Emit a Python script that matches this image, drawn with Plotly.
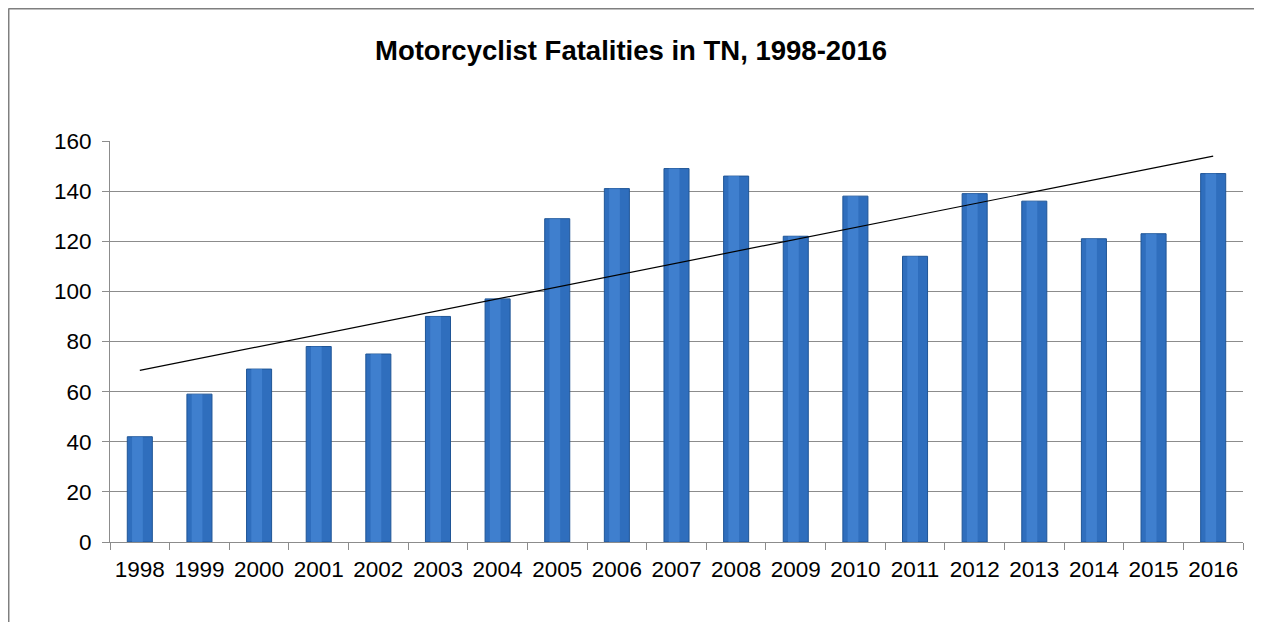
import plotly.graph_objects as go

years = [str(y) for y in range(1998, 2017)]
fatalities = [42, 59, 69, 78, 75, 90, 97, 129, 141, 149, 146, 122, 138, 114, 139, 136, 121, 123, 147]

# trend line end points
trend_years = ['1998', '2016']
trend_values = [68.5, 154]

y_ticks = [0, 20, 40, 60, 80, 100, 120, 140, 160]

fig = go.Figure()
fig.add_trace(go.Bar(
    x=years,
    y=fatalities,
    width=0.42,
    marker=dict(color='#2f6ebd', line=dict(color='#1f5596', width=1)),
    name='Fatalities'))
# lighter strip down the bar face for the shaded look
fig.add_trace(go.Bar(
    x=years,
    y=fatalities,
    width=0.18,
    offset=-0.13,
    marker=dict(color='#4b8bd8', line=dict(width=0), opacity=0.6),
    hoverinfo='skip',
    name='shade'))
fig.add_trace(go.Scatter(
    x=trend_years,
    y=trend_values,
    mode='lines',
    line=dict(color='black', width=1.2),
    name='Trend'))

# page body adds 8px around the figure, so size it to fit the window
W, H = 1246, 614
fig.update_layout(
    width=W, height=H,
    barmode='overlay',
    showlegend=False,
    paper_bgcolor='white',
    plot_bgcolor='white',
    margin=dict(l=102, r=11, t=133, b=80),
    font=dict(family='Liberation Sans, Arial', size=22.5, color='black'),
    title=dict(text='<b>Motorcyclist Fatalities in TN, 1998-2016</b>',
               x=0.5, xanchor='center', y=1 - 42 / H, yanchor='middle',
               font=dict(size=27.5, color='black')),
)
fig.update_xaxes(
    type='category',
    showline=True, linecolor='#8c8c8c', linewidth=1,
    ticks='outside', tickson='boundaries', ticklen=7, tickcolor='#8c8c8c',
    ticklabelstandoff=7,
    showgrid=False,
    tickangle=0,
    tickfont=dict(size=22.5),
    mirror=False)
fig.update_yaxes(
    range=[0, 160],
    tickvals=y_ticks,
    showline=True, linecolor='#8c8c8c', linewidth=1,
    ticks='outside', ticklen=7, tickcolor='#8c8c8c',
    ticklabelstandoff=6,
    showgrid=True, gridcolor='#8c8c8c', gridwidth=1,
    zeroline=False,
    tickfont=dict(size=22.5))

# outer chart frame (left and top edges)
fig.add_shape(type='line', xref='paper', yref='paper',
              x0=-0.0896, x1=-0.0896, y0=-0.3, y1=1.3304,
              line=dict(color='#7f7f7f', width=2))
fig.add_shape(type='line', xref='paper', yref='paper',
              x0=-0.0896, x1=1.05, y0=1.3304, y1=1.3304,
              line=dict(color='#7f7f7f', width=2))

fig.write_html("out.html")
